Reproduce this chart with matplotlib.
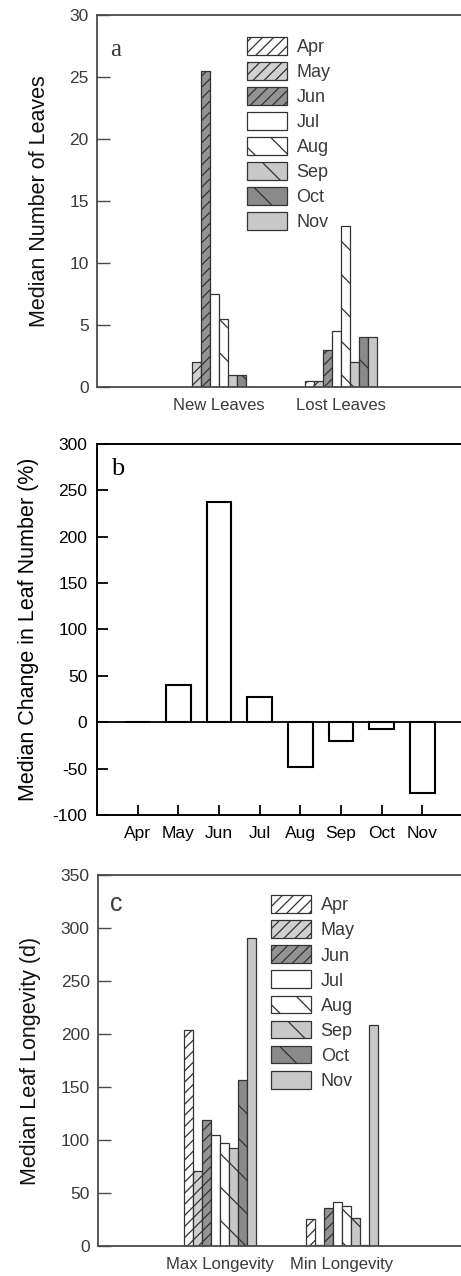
import numpy as np
import matplotlib
matplotlib.use("Agg")
import matplotlib.pyplot as plt

months = ['Apr', 'May', 'Jun', 'Jul', 'Aug', 'Sep', 'Oct', 'Nov']
leaf_groups = ['New Leaves', 'Lost Leaves']
new_leaves = [0, 2, 25.5, 7.5, 5.5, 1, 1, 0]
lost_leaves = [0.5, 0.5, 3, 4.5, 13, 2, 4, 4]
change_pct = [0, 40, 237, 27, -48, -20.5, -7, -76]
long_groups = ['Max Longevity', 'Min Longevity']
max_longevity = [204, 71, 119, 105, 97, 92, 157, 291]
min_longevity = [25.5, 1, 36, 41.5, 37.5, 26.5, 1, 208.5]

fills = ['#ffffff', '#d0d0d0', '#939393', '#ffffff', '#ffffff', '#c8c8c8', '#8a8a8a', '#c8c8c8']
hatches = ['///', '///', '///', '', '\\', '\\', '\\', '']

plt.rcParams['font.family'] = ['Liberation Sans', 'DejaVu Sans']
plt.rcParams['hatch.linewidth'] = 0.9
plt.rcParams['axes.unicode_minus'] = False
TXT = '#3a3a3a'
SP = '#4a4a4a'

fig = plt.figure(figsize=(4.61, 12.76), dpi=100)

def grouped(ax, groups, series, ylim, yticks, label, letter, letter_font, leg_anchor, lpad):
    x = np.arange(1, len(groups) + 1)
    w = 0.074
    data = np.array(series)  # shape groups x months
    for i, m in enumerate(months):
        ax.bar(x + (i - 3.5) * w, data[:, i], width=w, color=fills[i],
               edgecolor='#333333', hatch=hatches[i], linewidth=0.9, label=m)
    ax.set_xlim(0, 2.98)
    ax.set_ylim(*ylim)
    ax.set_yticks(yticks)
    ax.set_xticks(x)
    ax.set_xticklabels(groups, fontsize=12, color=TXT)
    ax.tick_params(axis='x', length=0, pad=8)
    ax.tick_params(axis='y', direction='in', length=9, width=1, color=SP,
                   labelsize=12.5, labelcolor=TXT, pad=6)
    for s in ['left', 'top', 'bottom']:
        ax.spines[s].set_color(SP)
        ax.spines[s].set_linewidth(1.3)
    ax.spines['right'].set_visible(False)
    ax.set_ylabel(label, fontsize=15.5, color='#111111', labelpad=lpad)
    ax.text(0.05, letter[1], letter[0], transform=ax.transAxes, fontsize=18,
            color=TXT, ha='center', va='center', family=letter_font)
    ax.legend(loc='upper left', bbox_to_anchor=leg_anchor, frameon=False,
              borderpad=0, borderaxespad=0, handlelength=2.2, handleheight=1.15,
              labelspacing=0.33, handletextpad=0.55, fontsize=13,
              labelcolor=TXT)

# Panel a
ax1 = fig.add_axes([0.2104, 0.6967, 0.7896, 0.2915])
grouped(ax1, leaf_groups, [new_leaves, lost_leaves], (0, 30), [0, 5, 10, 15, 20, 25, 30],
        'Median Number of Leaves', ('a', 0.905), ['Liberation Serif'], (0.412, 0.942), 14)

# Panel b
ax2 = fig.add_axes([0.2104, 0.3613, 0.7896, 0.2908])
xb = np.arange(1, len(months) + 1)
ax2.bar(xb, change_pct, width=0.6, color='white', edgecolor='black', linewidth=1.5)
ax2.axhline(0, color='black', linewidth=1.3)
ax2.set_xlim(0, 8.95)
ax2.set_ylim(-100, 300)
ax2.set_yticks(np.arange(-100, 301, 50))
ax2.set_xticks(xb)
ax2.set_xticklabels(months, fontsize=12.5)
ax2.tick_params(axis='x', direction='in', length=7, width=1.3, pad=8)
ax2.tick_params(axis='y', direction='in', length=8, width=1.3, labelsize=12.5, pad=7)
for s in ['left', 'top', 'bottom']:
    ax2.spines[s].set_linewidth(1.4)
ax2.spines['right'].set_visible(False)
ax2.set_ylabel('Median Change in Leaf Number (%)', fontsize=15.5, labelpad=10)
ax2.text(0.058, 0.933, 'b', transform=ax2.transAxes, fontsize=19, ha='center',
         va='center', family=['Liberation Serif'])

# Panel c
ax3 = fig.add_axes([0.2126, 0.0235, 0.7874, 0.2908])
grouped(ax3, long_groups, [max_longevity, min_longevity], (0, 350), np.arange(0, 351, 50),
        'Median Leaf Longevity (d)', ('c', 0.922), ['Liberation Sans'], (0.4766, 0.945), 14)

fig.savefig('out.png', dpi=100)
